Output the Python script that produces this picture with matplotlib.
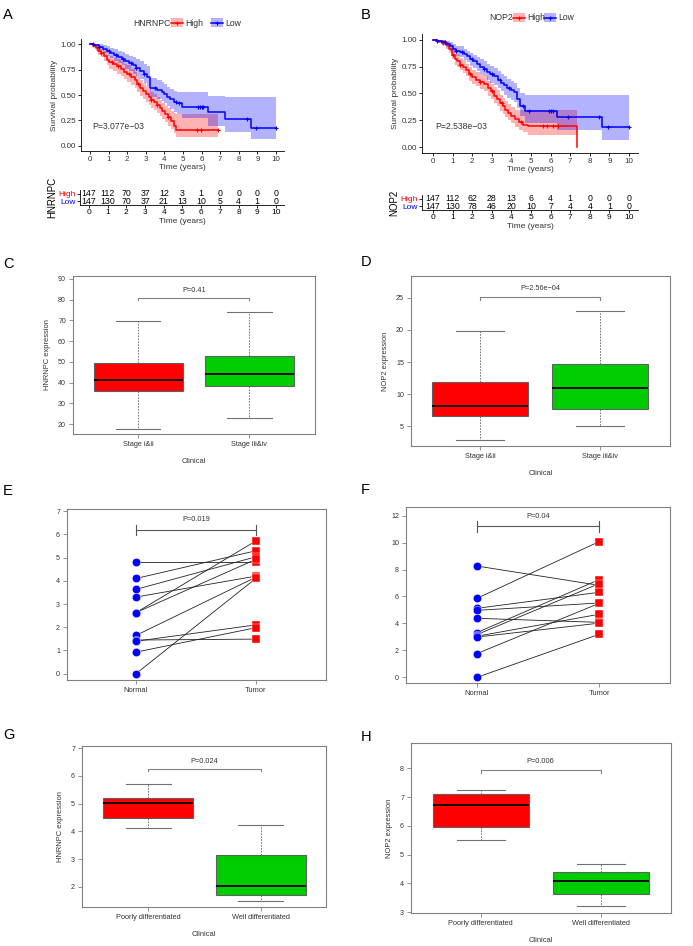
import numpy as np
import matplotlib
matplotlib.use("Agg")
import matplotlib.pyplot as plt
from matplotlib.patches import Rectangle
from matplotlib.lines import Line2D

plt.rcParams['font.family'] = ['Liberation Sans', 'DejaVu Sans']

W, H = 693, 946
fig = plt.figure(figsize=(W / 100, H / 100), dpi=100)

RED = "#FF0000"
BLUE = "#0000FF"
GREEN = "#00CD00"
GRAY = "#808080"

# ---------------- KM data ----------------
# A : HNRNPC
a_high_t = [0, 0.15, 0.3, 0.45, 0.6, 0.75, 0.9, 1.05, 1.25, 1.45, 1.65, 1.85, 2.0, 2.2, 2.4, 2.55,
            2.7, 2.85, 3.0, 3.15, 3.3, 3.45, 3.6, 3.75, 3.9, 4.05, 4.2, 4.35, 4.5, 4.65, 6.9]
a_high_s = [1.0, 0.98, 0.96, 0.93, 0.91, 0.88, 0.84, 0.82, 0.80, 0.78, 0.76, 0.73, 0.71, 0.68, 0.65, 0.61,
            0.57, 0.54, 0.51, 0.48, 0.45, 0.43, 0.40, 0.37, 0.34, 0.31, 0.28, 0.24, 0.20, 0.16, 0.16]
a_high_lo = [1.0, 0.96, 0.93, 0.89, 0.87, 0.83, 0.79, 0.76, 0.74, 0.71, 0.69, 0.66, 0.63, 0.60, 0.57, 0.53,
             0.49, 0.46, 0.43, 0.40, 0.37, 0.35, 0.32, 0.29, 0.26, 0.23, 0.20, 0.17, 0.13, 0.09, 0.09]
a_high_hi = [1.0, 1.0, 0.99, 0.97, 0.95, 0.93, 0.89, 0.88, 0.86, 0.85, 0.83, 0.80, 0.79, 0.76, 0.73, 0.69,
             0.65, 0.62, 0.59, 0.56, 0.53, 0.51, 0.48, 0.45, 0.42, 0.39, 0.37, 0.34, 0.32, 0.31, 0.31]
a_high_cens = [0.6, 1.2, 1.5, 2.1, 2.6, 3.3, 3.6, 4.2, 5.75, 5.95, 6.9]

a_low_t = [0, 0.2, 0.5, 0.7, 0.9, 1.1, 1.3, 1.5, 1.7, 1.9, 2.1, 2.3, 2.5, 2.7, 2.9, 3.05, 3.25,
           3.6, 3.85, 4.0, 4.15, 4.3, 4.5, 4.7, 4.95, 6.37, 7.27, 8.65, 10]
a_low_s = [1.0, 0.99, 0.97, 0.95, 0.93, 0.91, 0.89, 0.87, 0.85, 0.83, 0.81, 0.79, 0.77, 0.74, 0.71, 0.68, 0.57,
           0.55, 0.53, 0.51, 0.48, 0.46, 0.43, 0.42, 0.385, 0.33, 0.26, 0.18, 0.18]
a_low_lo = [1.0, 0.97, 0.94, 0.91, 0.88, 0.86, 0.83, 0.81, 0.79, 0.76, 0.74, 0.71, 0.69, 0.66, 0.62, 0.59, 0.48,
            0.46, 0.44, 0.42, 0.39, 0.36, 0.33, 0.31, 0.27, 0.20, 0.14, 0.066, 0.066]
a_low_hi = [1.0, 1.0, 1.0, 0.99, 0.98, 0.96, 0.95, 0.93, 0.92, 0.90, 0.88, 0.87, 0.85, 0.83, 0.80, 0.78, 0.67,
            0.65, 0.63, 0.61, 0.58, 0.56, 0.54, 0.53, 0.53, 0.49, 0.48, 0.48, 0.48]
a_low_cens = [0.15, 0.5, 1.0, 1.4, 1.8, 2.2, 2.5, 2.9, 3.5, 4.6, 4.8, 5.8, 5.9, 6.0, 6.1, 8.45, 8.95, 10.0]

# B : NOP2
b_high_t = [0, 0.2, 0.45, 0.65, 0.8, 0.95, 1.1, 1.25, 1.4, 1.55, 1.7, 1.85, 2.0, 2.2, 2.4, 2.6, 2.8,
            2.95, 3.1, 3.25, 3.4, 3.55, 3.7, 3.85, 4.0, 4.2, 4.4, 4.6, 4.85, 7.36]
b_high_s = [1.0, 0.99, 0.975, 0.95, 0.92, 0.86, 0.82, 0.80, 0.77, 0.75, 0.72, 0.68, 0.65, 0.63, 0.61, 0.59, 0.55,
            0.52, 0.48, 0.45, 0.41, 0.38, 0.35, 0.32, 0.29, 0.26, 0.23, 0.21, 0.195, 0.0]
b_high_lo = [1.0, 0.97, 0.95, 0.92, 0.88, 0.82, 0.77, 0.75, 0.72, 0.69, 0.66, 0.62, 0.59, 0.57, 0.54, 0.52, 0.48,
             0.45, 0.41, 0.38, 0.34, 0.31, 0.28, 0.25, 0.22, 0.19, 0.16, 0.14, 0.11, 0.0]
b_high_hi = [1.0, 1.0, 1.0, 0.98, 0.96, 0.91, 0.87, 0.86, 0.83, 0.81, 0.78, 0.75, 0.72, 0.70, 0.68, 0.66, 0.62,
             0.59, 0.56, 0.53, 0.49, 0.46, 0.43, 0.40, 0.37, 0.35, 0.35, 0.35, 0.35, 0.0]
b_high_cens = [0.5, 1.0, 1.4, 1.9, 2.4, 3.0, 3.5, 4.5, 5.6, 5.8, 6.1, 6.4]

b_low_t = [0, 0.2, 0.45, 0.65, 0.85, 1.0, 1.2, 1.4, 1.6, 1.75, 1.9, 2.05, 2.25, 2.4, 2.6, 2.75, 2.9, 3.1,
           3.3, 3.45, 3.6, 3.8, 4.0, 4.15, 4.3, 4.45, 4.7, 6.32, 8.63, 10]
b_low_s = [1.0, 0.99, 0.98, 0.96, 0.94, 0.92, 0.90, 0.89, 0.87, 0.85, 0.82, 0.80, 0.78, 0.75, 0.73, 0.70, 0.68,
           0.66, 0.63, 0.60, 0.58, 0.55, 0.53, 0.51, 0.45, 0.38, 0.34, 0.28, 0.19, 0.19]
b_low_lo = [1.0, 0.97, 0.95, 0.93, 0.90, 0.88, 0.85, 0.84, 0.81, 0.79, 0.76, 0.74, 0.71, 0.68, 0.66, 0.63, 0.60,
            0.58, 0.55, 0.52, 0.49, 0.46, 0.44, 0.42, 0.36, 0.29, 0.22, 0.16, 0.07, 0.07]
b_low_hi = [1.0, 1.0, 1.0, 0.99, 0.98, 0.96, 0.94, 0.94, 0.92, 0.90, 0.88, 0.86, 0.84, 0.82, 0.80, 0.78, 0.76,
            0.74, 0.71, 0.68, 0.66, 0.64, 0.62, 0.60, 0.55, 0.50, 0.49, 0.49, 0.49, 0.49]
b_low_cens = [0.2, 0.6, 1.2, 1.5, 2.0, 2.6, 3.0, 3.4, 3.9, 4.6, 4.9, 5.9, 6.0, 6.1, 6.9, 8.45, 8.93, 10.0]

risk_times = list(range(11))
a_risk_high = [147, 112, 70, 37, 12, 3, 1, 0, 0, 0, 0]
a_risk_low = [147, 130, 70, 37, 21, 13, 10, 5, 4, 1, 0]
b_risk_high = [147, 112, 62, 28, 13, 6, 4, 1, 0, 0, 0]
b_risk_low = [147, 130, 78, 46, 20, 10, 7, 4, 4, 1, 0]

# ---------------- box plot data ----------------
box_groups_stage = ["Stage i&ii", "Stage iii&iv"]
box_groups_diff = ["Poorly differentiated", "Well differentiated"]
# order: whislo, q1, med, q3, whishi
c_stats = [[17.7, 35.9, 41.3, 49.5, 69.8], [22.7, 38.4, 44.0, 52.9, 73.8]]
d_stats = [[2.9, 6.6, 8.2, 11.94, 19.87], [5.1, 7.64, 11.0, 14.64, 22.9]]
g_stats = [[4.11, 4.49, 5.01, 5.19, 5.70], [1.47, 1.72, 2.03, 3.16, 4.22]]
h_stats = [[5.51, 5.95, 6.74, 7.11, 7.23], [3.20, 3.64, 4.08, 4.39, 4.67]]

# ---------------- paired data ----------------
e_normal = [4.82, 4.10, 3.63, 3.30, 2.63, 2.63, 1.65, 1.45, 1.40, 0.93, 0.0]
e_tumor = [4.82, 5.29, 5.03, 4.20, 5.71, 4.92, 4.15, 1.49, 2.10, 1.98, 4.10]
f_normal = [8.26, 5.86, 5.12, 4.97, 4.38, 3.32, 3.17, 3.05, 2.99, 1.76, 0.0]
f_tumor = [6.83, 10.07, 6.31, 5.52, 4.08, 7.25, 6.95, 4.68, 4.02, 5.49, 3.19]


def px_axes(l, t, r, b):
    return fig.add_axes([l / W, 1 - b / H, (r - l) / W, (b - t) / H])


def ftext(x, y, s, **kw):
    fig.text(x / W, 1 - y / H, s, **kw)


def step_val(t, s, c):
    i = np.searchsorted(t, c, side="right") - 1
    return np.asarray(s)[i]


def km_panel(ax, curves, pval, xlim, ylim):
    for t, s, lo, hi, cens, col in curves:
        ax.fill_between(t, lo, hi, step="post", color=col, alpha=0.3, linewidth=0)
        ax.step(t, s, where="post", color=col, lw=1.1)
        ax.plot(cens, step_val(t, s, cens), "+", color=col, ms=3.5, mew=0.8)
    ax.set_xlim(*xlim)
    ax.set_ylim(*ylim)
    ax.set_xticks(range(11))
    ax.set_yticks([0, 0.25, 0.5, 0.75, 1.0])
    ax.set_yticklabels(["0.00", "0.25", "0.50", "0.75", "1.00"])
    for sp in ["top", "right"]:
        ax.spines[sp].set_visible(False)
    for sp in ["left", "bottom"]:
        ax.spines[sp].set_linewidth(0.6)
    ax.tick_params(length=2, width=0.6, labelsize=5.8, pad=1.5, labelcolor="#333333")
    ax.set_xlabel("Time (years)", fontsize=6, labelpad=1, color="#333333")
    ax.set_ylabel("Survival probability", fontsize=6, labelpad=2, color="#333333")
    ax.text(0.1, 0.19, pval, fontsize=6.2, color="#333333", va="center")


def km_legend(title, x_title, x_high, x_low, y):
    ftext(x_title, y, title, fontsize=6.2, va="center", color="#333333")
    for x0, col, lab in [(x_high, RED, "High"), (x_low, BLUE, "Low")]:
        fig.add_artist(Rectangle((x0 / W, 1 - (y + 4.5) / H), 12 / W, 9 / H, transform=fig.transFigure,
                                 facecolor=col, alpha=0.3, edgecolor="none"))
        fig.add_artist(Line2D([x0 / W, (x0 + 12) / W], [1 - y / H, 1 - y / H], transform=fig.transFigure,
                              color=col, lw=1.1))
        fig.add_artist(Line2D([(x0 + 6) / W], [1 - y / H], transform=fig.transFigure, color=col,
                              marker="+", ms=3.5, mew=0.8))
        ftext(x0 + 14, y, lab, fontsize=6.2, va="center", color="#333333")


def risk_panel(ax, high, low, gene, xlim):
    for t, h, l in zip(risk_times, high, low):
        ax.text(t, 1.5, str(h), ha="center", va="center", fontsize=6.3)
        ax.text(t, 0.5, str(l), ha="center", va="center", fontsize=6.3)
    ax.set_xlim(*xlim)
    ax.set_ylim(0, 2)
    ax.set_yticks([1.5, 0.5])
    ax.set_yticklabels(["High", "Low"])
    for lab, col in zip(ax.get_yticklabels(), [RED, BLUE]):
        lab.set_color(col)
    ax.set_xticks(range(11))
    for sp in ["top", "right"]:
        ax.spines[sp].set_visible(False)
    for sp in ["left", "bottom"]:
        ax.spines[sp].set_linewidth(0.6)
    ax.tick_params(length=2, width=0.6, labelsize=6, pad=1)
    ax.set_xlabel("Time (years)", fontsize=6, labelpad=1, color="#333333")
    ax.set_ylabel(gene, fontsize=7, labelpad=1)
    ax.patch.set_alpha(0)


def r_frame(ax):
    for sp in ax.spines.values():
        sp.set_color(GRAY)
        sp.set_linewidth(0.8)
    ax.tick_params(length=3, width=0.6, color=GRAY, labelsize=5.1, labelcolor="#333333", pad=2)


def box_panel(ax, stats, labels, xlim, ylim, yticks, pval, br_y, br_d, p_y, ylab):
    bx = [dict(whislo=s[0], q1=s[1], med=s[2], q3=s[3], whishi=s[4], fliers=[]) for s in stats]
    art = ax.bxp(bx, positions=[1, 2], widths=0.8, showfliers=False, patch_artist=True, capwidths=0.4,
                 boxprops=dict(edgecolor="#606060", linewidth=0.8),
                 whiskerprops=dict(color="#606060", linestyle=(0, (2, 1.5)), linewidth=0.6),
                 capprops=dict(color="#707070", linewidth=0.8),
                 medianprops=dict(color="black", linewidth=1.3))
    for patch, col in zip(art["boxes"], [RED, GREEN]):
        patch.set_facecolor(col)
    ax.plot([1, 1, 2, 2], [br_y - br_d, br_y, br_y, br_y - br_d], color=GRAY, lw=0.8)
    ax.text(1.5, p_y, pval, ha="center", va="center", fontsize=5.3, color="#333333")
    ax.set_xlim(*xlim)
    ax.set_ylim(*ylim)
    ax.set_yticks(yticks)
    ax.set_xticks([1, 2])
    ax.set_xticklabels(labels)
    r_frame(ax)
    ax.tick_params(axis="x", labelsize=5.3)
    ax.set_xlabel("Clinical", fontsize=5.4, color="#333333", labelpad=7)
    ax.set_ylabel(ylab, fontsize=5.4, color="#333333", labelpad=5)


def paired_panel(ax, normal, tumor, xlim, ylim, yticks, pval, br_y, br_d, p_y):
    for n, t in zip(normal, tumor):
        ax.plot([1, 2], [n, t], color="#222222", lw=0.6, zorder=2)
    ax.scatter([1] * len(normal), normal, s=36, marker="o", color=BLUE, edgecolor="white", linewidth=0.3, zorder=3)
    ax.scatter([2] * len(tumor), tumor, s=36, marker="s", color=RED, edgecolor="white", linewidth=0.3, zorder=3)
    ax.plot([1, 2], [br_y, br_y], color="#555555", lw=0.8)
    ax.plot([1, 1], [br_y - br_d, br_y + br_d], color="#555555", lw=0.8)
    ax.plot([2, 2], [br_y - br_d, br_y + br_d], color="#555555", lw=0.8)
    ax.text(1.5, p_y, pval, ha="center", va="center", fontsize=5.3, color="#333333")
    ax.set_xlim(*xlim)
    ax.set_ylim(*ylim)
    ax.set_yticks(yticks)
    ax.set_xticks([1, 2])
    ax.set_xticklabels(["Normal", "Tumor"])
    r_frame(ax)
    ax.tick_params(axis="x", labelsize=5.4)


# ---------------- A ----------------
axA = px_axes(81, 39, 284, 151)
km_panel(axA, [(a_high_t, a_high_s, a_high_lo, a_high_hi, a_high_cens, RED),
               (a_low_t, a_low_s, a_low_lo, a_low_hi, a_low_cens, BLUE)],
         "P=3.077e\u221203", (-0.48, 10.43), (-0.05, 1.05))
km_legend("HNRNPC", 133, 171, 211, 23)
axAr = px_axes(80, 190, 284, 205)
risk_panel(axAr, a_risk_high, a_risk_low, "HNRNPC", (-0.48, 10.43))

# ---------------- B ----------------
axB = px_axes(422, 34, 638, 153)
km_panel(axB, [(b_high_t, b_high_s, b_high_lo, b_high_hi, b_high_cens, RED),
               (b_low_t, b_low_s, b_low_lo, b_low_hi, b_low_cens, BLUE)],
         "P=2.538e\u221203", (-0.56, 10.46), (-0.056, 1.056))
km_legend("NOP2", 489, 513, 544, 18)
axBr = px_axes(422, 195, 638, 210)
risk_panel(axBr, b_risk_high, b_risk_low, "NOP2", (-0.56, 10.46))

# ---------------- C, D ----------------
axC = px_axes(73, 276, 315, 434)
box_panel(axC, c_stats, box_groups_stage, (0.414, 2.59), (15.2, 91.4), range(20, 91, 10),
          "P=0.41", 81, 1.2, 84.6, "HNRNPC expression")
axD = px_axes(411, 276, 670, 446)
box_panel(axD, d_stats, box_groups_stage, (0.425, 2.58), (1.94, 28.4), [5, 10, 15, 20, 25],
          "P=2.56e\u221204", 25.15, 0.5, 26.4, "NOP2 expression")

# ---------------- E, F ----------------
axE = px_axes(67, 509, 326, 680)
paired_panel(axE, e_normal, e_tumor, (0.424, 2.587), (-0.27, 7.09), range(0, 8),
             "P=0.019", 6.2, 0.22, 6.65)
axF = px_axes(406, 507, 670, 683)
paired_panel(axF, f_normal, f_tumor, (0.42, 2.58), (-0.42, 12.64), range(0, 13, 2),
             "P=0.04", 11.2, 0.4, 11.95)

# ---------------- G, H ----------------
axG = px_axes(82, 746, 326, 907)
box_panel(axG, g_stats, box_groups_diff, (0.413, 2.58), (1.27, 7.08), range(2, 8),
          "P=0.024", 6.25, 0.08, 6.52, "HNRNPC expression")
axH = px_axes(411, 743, 671, 913)
box_panel(axH, h_stats, box_groups_diff, (0.42, 2.587), (2.97, 8.88), range(3, 9),
          "P=0.006", 7.93, 0.08, 8.24, "NOP2 expression")

# panel letters
for lab, x, y in [("A", 3, 15), ("B", 361, 15), ("C", 3, 264), ("D", 361, 262),
                  ("E", 3, 491), ("F", 361, 490), ("G", 3, 735), ("H", 361, 737)]:
    ftext(x, y, lab, fontsize=10.5, va="center", ha="left")

fig.savefig("out.png", dpi=100)
